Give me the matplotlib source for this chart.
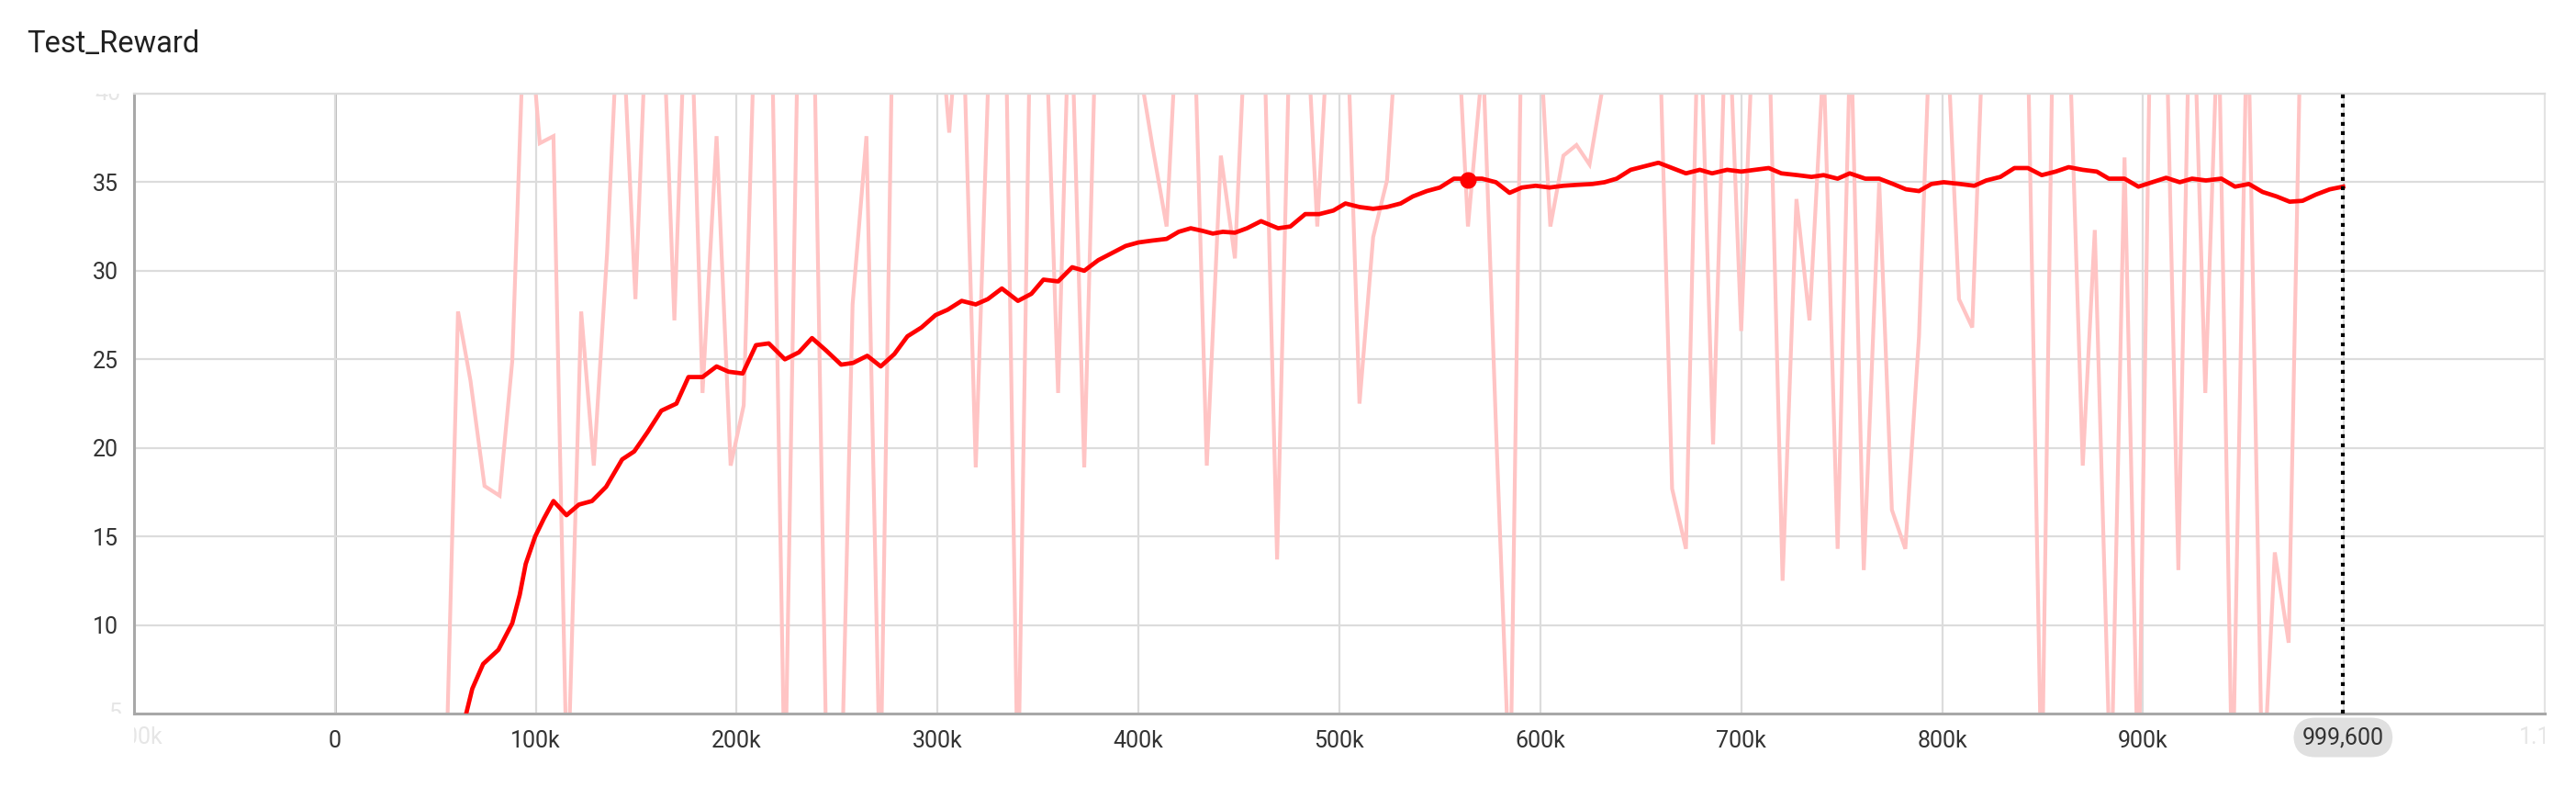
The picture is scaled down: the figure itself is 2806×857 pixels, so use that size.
import numpy as np
import matplotlib.pyplot as plt
from matplotlib.ticker import FuncFormatter
from matplotlib.transforms import Bbox, TransformedBbox

plt.rcParams['font.family'] = ['Roboto', 'DejaVu Sans']

# ── dados (passos em milhares) ──────────────────────────────────────────────
# valores fora de [5, 40] ficam cortados no gráfico original
raw_steps_k = [
    55, 61.3, 67.5, 74.5, 82, 88.3, 95, 102, 108.8, 115.7, 122.6, 128.9,
    135.5, 142, 149.6, 156, 162.5, 169, 176, 183, 190, 197, 203.5, 210,
    217, 224, 231, 238, 245, 252, 257.7, 264.6, 271.5, 278, 285, 292,
    298.5, 305.8, 312, 319, 327, 333.5, 340, 346.5, 353, 360, 366, 373,
    379.5, 386, 393, 400.5, 407, 414, 420.5, 427, 434, 441, 448, 454.5,
    461.5, 469, 476, 482.5, 489, 496, 503, 510, 516.8, 523.7, 530.5, 537,
    544, 551, 557.5, 564, 571.5, 578, 585, 591, 598, 605, 611.5, 618,
    624.5, 632, 638, 645, 652, 658.5, 665.6, 672.5, 679, 686, 693, 700,
    707, 713.5, 720.6, 727.5, 734, 741, 748, 754.5, 761, 768.7, 775,
    781.7, 788.5, 795, 801.5, 808.4, 815, 821.5, 828, 835, 842, 849.6,
    855.5, 862, 870, 876, 884, 890.8, 897.7, 904, 911, 917.6, 924, 931,
    937.5, 944.5, 952, 959.5, 965.6, 972.5, 979, 986, 993, 999.6,
]
raw_values = [
    0, 27.7, 23.8, 17.85, 17.3, 24.9, 47, 37.2, 37.6, 0, 27.7, 19.0,
    31.0, 47, 28.4, 47, 47, 27.2, 50, 23.1, 37.6, 19.0, 22.4, 48,
    47, 0, 47, 47, 0, 0, 28.1, 37.6, 0, 47, 48, 48,
    48, 37.8, 47, 18.9, 47, 47, 0, 47, 47, 23.1, 47, 18.9,
    47, 48, 48, 41.5, 37.0, 32.5, 47, 47, 19.0, 36.5, 30.7, 47,
    48, 13.7, 47, 47, 32.5, 47, 47, 22.5, 31.9, 35.1, 47, 48,
    48, 48, 47, 32.5, 42, 21, 0, 47, 47, 32.5, 36.5, 37.1,
    36.0, 41, 47, 48, 48, 47, 17.7, 14.3, 47, 20.2, 47, 26.6,
    47, 45, 12.5, 34.05, 27.2, 42, 14.3, 44, 13.1, 35.0, 16.5,
    14.3, 26.3, 47, 46, 28.4, 26.8, 47, 48, 48, 47, 0,
    47, 48, 19.0, 32.3, 0, 36.4, 0, 47, 47, 13.1, 50, 23.1,
    45, 0, 46, 0, 14.1, 9.0, 47, 48, 48, 47,
]

smooth_steps_k = [
    61.5, 68.4, 73.8, 81.4, 88.3, 92, 95, 99.7, 104, 108.8, 115.3, 121.5,
    128, 135, 143, 149, 155.7, 162.5, 170, 176, 183, 190, 196, 203,
    209.6, 216, 224, 231, 237.5, 244.5, 252, 258, 265, 271.7, 278.5, 285,
    292, 299, 305, 312, 319, 325, 332, 340, 346.7, 352.7, 360, 367,
    373, 380, 386.8, 393.6, 400, 406.5, 414, 420, 426, 432, 437, 442,
    448, 454, 461, 469.5, 475.6, 483, 490, 497, 503, 510, 516.8, 523.7,
    530.5, 536.6, 543.5, 550, 557, 564, 571, 577.9, 584.7, 590.8, 597.7,
    604.6, 611.5, 618, 626, 632, 638, 645, 652, 658.8, 665.6, 672.5,
    679.4, 685.5, 693, 700, 707, 713.7, 720, 728, 735, 741, 748, 754,
    761.8, 768.7, 775.6, 782, 788.5, 794.7, 800.8, 809, 816, 822, 829,
    836, 842.7, 849.6, 856.5, 863, 870, 877, 883, 890.8, 897.7, 904.6,
    911.5, 918.3, 924.4, 931.3, 939, 945.8, 952.7, 959.5, 966.4, 973,
    979.4, 986, 993, 999.6,
]
smooth_values = [
    3.2, 6.4, 7.8, 8.6, 10.1, 11.7, 13.45, 15.0, 16.0, 17.0, 16.2, 16.8,
    17.0, 17.8, 19.35, 19.8, 20.9, 22.1, 22.5, 24.0, 24.0, 24.6, 24.3, 24.2,
    25.8, 25.9, 25.0, 25.4, 26.2, 25.5, 24.7, 24.8, 25.2, 24.6, 25.3, 26.3,
    26.8, 27.5, 27.8, 28.3, 28.1, 28.4, 29.0, 28.3, 28.7, 29.5, 29.4, 30.2,
    30.0, 30.6, 31.0, 31.4, 31.6, 31.7, 31.8, 32.2, 32.4, 32.25, 32.1, 32.2,
    32.15, 32.4, 32.8, 32.4, 32.5, 33.2, 33.2, 33.4, 33.8, 33.6, 33.5, 33.6,
    33.8, 34.2, 34.5, 34.7, 35.2, 35.2, 35.2, 35.0, 34.4, 34.7, 34.8,
    34.7, 34.8, 34.85, 34.9, 35.0, 35.2, 35.7, 35.9, 36.1, 35.8, 35.5,
    35.7, 35.5, 35.7, 35.6, 35.7, 35.8, 35.5, 35.4, 35.3, 35.4, 35.2, 35.5,
    35.2, 35.2, 34.9, 34.6, 34.5, 34.9, 35.0, 34.9, 34.8, 35.1, 35.3,
    35.8, 35.8, 35.4, 35.6, 35.85, 35.7, 35.6, 35.2, 35.2, 34.75, 35.0,
    35.25, 35.0, 35.2, 35.1, 35.2, 34.75, 34.9, 34.45, 34.2, 33.9,
    33.95, 34.3, 34.6, 34.75,
]

marker_step_k = 564
marker_value = 35.1
cursor_step = 999600

x_ticks_k = [0, 100, 200, 300, 400, 500, 600, 700, 800, 900]
y_ticks = [10, 15, 20, 25, 30, 35]

raw_steps = np.array(raw_steps_k) * 1000
smooth_steps = np.array(smooth_steps_k) * 1000

# ── figura ───────────────────────────────────────────────────────────────────
fig = plt.figure(figsize=(28.06, 8.57), dpi=100)
ax = fig.add_axes([0.052, 0.0933, 0.9359, 0.7877])

ax.set_xlim(-100000, 1100000)
ax.set_ylim(5, 40)

ax.set_xticks(np.array(x_ticks_k) * 1000)
ax.xaxis.set_major_formatter(FuncFormatter(
    lambda v, p: '0' if v == 0 else f'{int(v / 1000)}k'))
ax.set_yticks(y_ticks)

ax.grid(True, color='#dcdcdc', lw=1.6, zorder=0)
ax.axhline(40, color='#dcdcdc', lw=1.6, zorder=0)
ax.axvline(1000000, color='#dcdcdc', lw=1.6, zorder=0)
ax.axvline(0, color='#a8a8a8', lw=1.8, zorder=0.5)
ax.tick_params(length=0, labelsize=18, labelcolor='#333333')
ax.tick_params(axis='x', pad=13)
ax.tick_params(axis='y', pad=12)

for s in ['left', 'bottom']:
    ax.spines[s].set_color('#a8a8a8')
    ax.spines[s].set_linewidth(2.2)
ax.spines['top'].set_color('#dcdcdc')
ax.spines['right'].set_color('#e4e4e4')
ax.spines['top'].set_linewidth(1.6)
ax.spines['right'].set_linewidth(1.6)

ax.plot(raw_steps, raw_values, color='#ffc4c4', lw=3.0, zorder=2,
        solid_joinstyle='miter')
ax.plot(smooth_steps, smooth_values, color='#ff0000', lw=3.4, zorder=3)
ax.plot(marker_step_k * 1000, marker_value, 'o', color='#ff0000',
        ms=12, zorder=4)
ax.axvline(cursor_step, color='black', lw=3, ls=(0, (1, 1.4)), zorder=5)

# etiqueta do cursor
ax.text(cursor_step, -0.0385, f'{cursor_step:,}', transform=ax.get_xaxis_transform(),
        ha='center', va='center', fontsize=18, color='#333333',
        bbox=dict(boxstyle='round,pad=0.38,rounding_size=0.95',
                  fc='#e0e0e0', ec='none'))

# rótulos desbotados nas bordas, cortados pela área do gráfico
faded = '#e6e6e6'
for xv, lab in [(-100000, '-100k'), (1100000, '1.1M')]:
    t = fig.text(xv, -0.0385, lab, transform=ax.get_xaxis_transform(),
                 ha='center', va='center', fontsize=18, color=faded)
    t.set_clip_box(TransformedBbox(Bbox([[0, -1], [1, 0]]), ax.transAxes))
    t.set_clip_on(True)
for yv, lab in [(40, '40'), (5, '5')]:
    t = fig.text(-0.0053, yv, lab, transform=ax.get_yaxis_transform(),
                 ha='right', va='center', fontsize=18, color=faded)
    t.set_clip_box(TransformedBbox(Bbox([[-1, 0], [0, 1]]), ax.transAxes))
    t.set_clip_on(True)

fig.text(29 / 2806, 1 - 57 / 857, 'Test_Reward', fontsize=23.5,
         color='#212121', va='baseline', ha='left')

plt.savefig('out.png', dpi=100)
